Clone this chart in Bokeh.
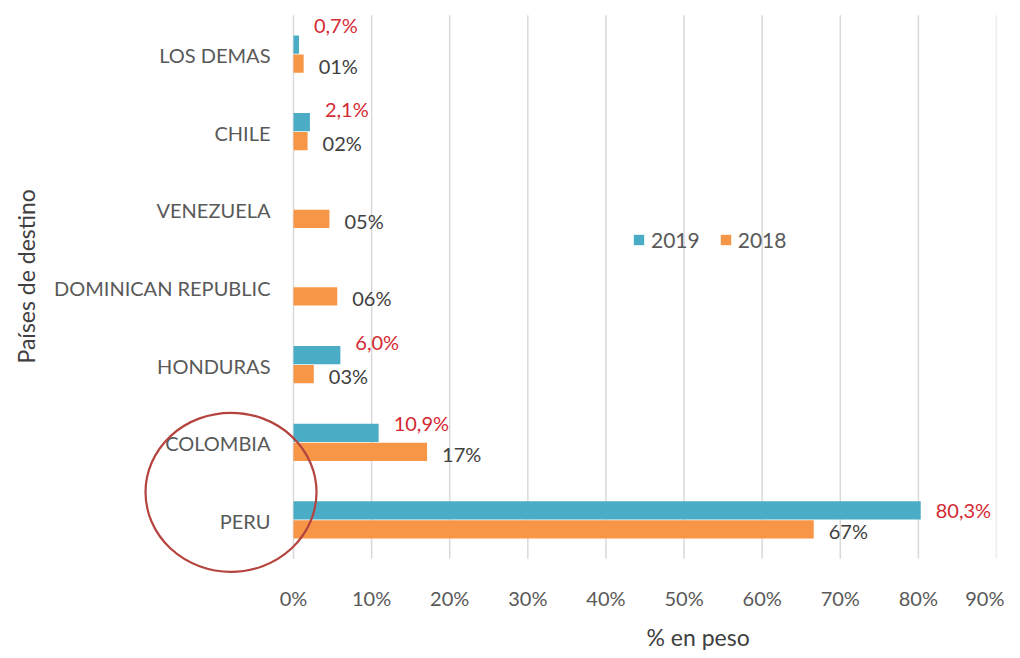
import numpy as np
from bokeh.plotting import figure
from bokeh.models import (FactorRange, Range1d, ColumnDataSource, Legend, LegendItem,
                          FixedTicker, Title)
from bokeh.transform import dodge
from bokeh.core.properties import value
from bokeh.embed import file_html
from bokeh.resources import INLINE

# ---------------- data ----------------
categories = ["LOS DEMAS", "CHILE", "VENEZUELA", "DOMINICAN REPUBLIC", "HONDURAS", "COLOMBIA", "PERU"]
share_2019 = [0.7, 2.1, None, None, 6.0, 10.9, 80.3]
share_2018 = [1.3, 1.8, 4.6, 5.6, 2.6, 17.1, 66.6]
x_ticks = [0, 10, 20, 30, 40, 50, 60, 70, 80, 90]
series_names = ["2019", "2018"]
highlighted = ["PERU"]
x_title = "% en peso"
y_title = "Países de destino"

# ---------------- styles ----------------
FONT = "Lato"
C2019 = "#4BACC6"
C2018 = "#F79646"
RED = "#D42A34"
RING = "#B5443F"
GRAY = "#595959"
DARK = "#404040"
GRID = "#D9D9D9"
label_dy_2019 = [-20, -13, 0, 0, -13, -10, 0]   # pixel nudges of the red labels
RING_X = -8.0                                    # ring centre, left of the 0% line

# the frame is extended to the left (and slightly below) so the category names
# and the highlight ring can be drawn inside it without clipping
p = figure(width=1004, height=658, output_backend="svg", toolbar_location=None,
           y_range=FactorRange(factors=categories[::-1], range_padding=0.19,
                               range_padding_units="absolute"),
           x_range=Range1d(-31.75, 90))
p.min_border_left = 45
p.min_border_right = 8
p.min_border_top = 0
p.min_border_bottom = 84
p.outline_line_color = None
p.background_fill_color = "white"

# vertical grid lines over the category band only
n = len(x_ticks)
grid_src = ColumnDataSource(dict(x=x_ticks, lo=[categories[-1]] * n, hi=[categories[0]] * n))
p.segment(x0="x", x1="x", y0=dodge("lo", -0.5, range=p.y_range),
          y1=dodge("hi", 0.5, range=p.y_range), source=grid_src,
          line_color=GRID, line_width=1.5)

# bars
c19 = [c for c, v in zip(categories, share_2019) if v is not None]
v19 = [v for v in share_2019 if v is not None]
dy19 = [d for d, v in zip(label_dy_2019, share_2019) if v is not None]
src19 = ColumnDataSource(dict(cat=c19, val=v19,
                              lab=[f"{v:.1f}".replace(".", ",") + "%" for v in v19],
                              dy=dy19))
src18 = ColumnDataSource(dict(cat=categories, val=share_2018,
                              lab=[f"{int(v + 0.5):02d}%" for v in share_2018]))
srccat = ColumnDataSource(dict(cat=categories, x0=[0] * len(categories)))

bh = 0.235
r19 = p.hbar(y=dodge("cat", 0.122, range=p.y_range), left=0, right="val", height=bh,
             source=src19, fill_color=C2019, line_color=None)
r18 = p.hbar(y=dodge("cat", -0.122, range=p.y_range), left=0, right="val", height=bh,
             source=src18, fill_color=C2018, line_color=None)

p.text(x="val", y=dodge("cat", 0.122, range=p.y_range), text="lab", source=src19,
       x_offset=15, y_offset="dy", text_color=RED, text_font=value(FONT),
       text_font_size="20px", text_baseline="middle", text_align="left")
p.text(x="val", y=dodge("cat", -0.122, range=p.y_range), text="lab", source=src18,
       x_offset=15, y_offset=2, text_color=DARK, text_font=value(FONT),
       text_font_size="20px", text_baseline="middle", text_align="left")

# category names (y tick labels) placed through the categorical scale
p.text(x="x0", y="cat", text="cat", source=srccat, x_offset=-23, y_offset=1,
       text_color=GRAY, text_font=value(FONT), text_font_size="20px",
       text_baseline="middle", text_align="right")

# highlight ring around PERU
p.ellipse(x="rx", y=dodge("cat", 0.356, range=p.y_range),
          source=ColumnDataSource(dict(cat=highlighted, rx=[RING_X] * len(highlighted))),
          width=171, height=159, width_units="screen", height_units="screen",
          fill_color=None, line_color=RING, line_width=2.2)

# axes
p.xaxis.ticker = FixedTicker(ticks=x_ticks)
p.xaxis.major_label_overrides = {t: f"{t}%" for t in x_ticks}
p.xaxis.axis_line_color = None
p.xaxis.major_tick_line_color = None
p.xaxis.minor_tick_line_color = None
p.xaxis.major_label_standoff = 6
p.xaxis.major_label_text_font = FONT
p.xaxis.major_label_text_font_size = "20px"
p.xaxis.major_label_text_color = GRAY
p.xgrid.visible = False
p.ygrid.visible = False
p.yaxis.visible = False

# axis titles
p.add_layout(Title(text=x_title, align="left", offset=601, standoff=16,
                   text_font=FONT, text_font_style="normal", text_font_size="23px",
                   text_color=DARK), "below")
p.add_layout(Title(text=y_title, align="left", offset=210, standoff=11,
                   text_font=FONT, text_font_style="normal", text_font_size="23px",
                   text_color=DARK), "left")

# legend
legend = Legend(items=[LegendItem(label=series_names[0], renderers=[r19]),
                       LegendItem(label=series_names[1], renderers=[r18])],
                orientation="horizontal", location=(587, 321),
                border_line_color=None, background_fill_alpha=0,
                glyph_width=13, glyph_height=13, label_standoff=6, spacing=19,
                padding=0, margin=0,
                label_text_font=FONT, label_text_font_size="21px", label_text_color=GRAY)
p.add_layout(legend, "center")

open("out.html", "w").write(file_html(p, INLINE))
